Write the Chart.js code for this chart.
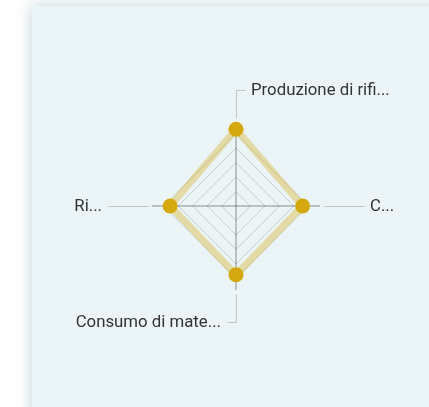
<!DOCTYPE html>
<html>
<head>
<meta charset="utf-8">
<script src="https://cdn.jsdelivr.net/npm/chart.js@4.4.0/dist/chart.umd.min.js"></script>
<style>
    html, body { margin: 0; padding: 0; background: #fff; overflow: hidden; }
    .card {
        position: absolute; left: 32px; top: 6px; width: 430px; height: 430px;
        background: #ebf4f6;
        box-shadow: 0 0 14px rgba(70, 120, 130, 0.35);
    }
    #wrap { position: absolute; left: 0; top: 0; width: 429px; height: 407px; }
</style>
</head>
<body>
<div class="card"></div>
<div id="wrap"><canvas id="radarChart"></canvas></div>
<script>
// axis labels, clockwise from the top (already truncated as on screen)
const labels = ['Produzione di rifi...', 'C...', 'Consumo di mate...', 'Ri...'];
const values = [106, 92, 95, 91];
const scaleMax = 116;
const ringStep = 20;   // rings at 20, 40, 60, 80, 100

// labels with leader lines, placed from the radial scale itself
const leaderLabels = {
    id: 'leaderLabels',
    afterDraw(chart) {
        const scale = chart.scales.r;
        const ctx = chart.ctx;
        ctx.save();
        ctx.font = '16.8px Roboto, Arial, sans-serif';
        ctx.fillStyle = '#333';
        ctx.strokeStyle = '#c4c4c4';
        ctx.lineWidth = 1;
        ctx.textBaseline = 'middle';
        chart.data.labels.forEach((label, i) => {
            const a = scale.getPointPosition(i, scale.drawingArea + 4);
            const b = scale.getPointPosition(i, scale.drawingArea + 32);
            const dx = b.x - scale.xCenter;
            const dy = b.y - scale.yCenter;
            const side = Math.abs(dx) < 1 ? (dy < 0 ? 1 : -1) : Math.sign(dx);
            const flat = Math.abs(dy) < 1;
            const cx = b.x + side * (flat ? 12 : 9);
            ctx.beginPath();
            ctx.moveTo(a.x + 0.5, a.y + 0.5);
            ctx.lineTo(b.x + 0.5, b.y + 0.5);
            ctx.lineTo(cx + 0.5, b.y + 0.5);
            ctx.stroke();
            ctx.textAlign = side > 0 ? 'left' : 'right';
            ctx.fillText(label, cx + side * 6, b.y + 0.5);
        });
        ctx.restore();
    }
};

new Chart(document.getElementById('radarChart').getContext('2d'), {
    type: 'radar',
    data: {
        labels: labels,
        datasets: [{
            data: values,
            fill: false,
            borderColor: 'rgba(213, 169, 16, 0.35)',
            borderWidth: 7,
            pointRadius: 7.5,
            pointBorderWidth: 0,
            pointBackgroundColor: '#d4a90f',
            pointBorderColor: '#d4a90f'
        }]
    },
    options: {
        responsive: true,
        maintainAspectRatio: false,
        animation: false,
        layout: {
            padding: { left: 152, right: 109, top: 122, bottom: 117 }
        },
        plugins: {
            legend: { display: false },
            tooltip: { enabled: false }
        },
        scales: {
            r: {
                min: 0,
                max: scaleMax,
                ticks: { stepSize: ringStep, display: false },
                afterBuildTicks: scale => {
                    scale.ticks = scale.ticks.filter(t => t.value <= 100);
                },
                grid: { color: 'rgba(0, 0, 0, 0.16)', lineWidth: 1 },
                angleLines: { color: 'rgba(0, 0, 0, 0.42)', lineWidth: 1 },
                pointLabels: { display: false }
            }
        }
    },
    plugins: [leaderLabels]
});
</script>
</body>
</html>
